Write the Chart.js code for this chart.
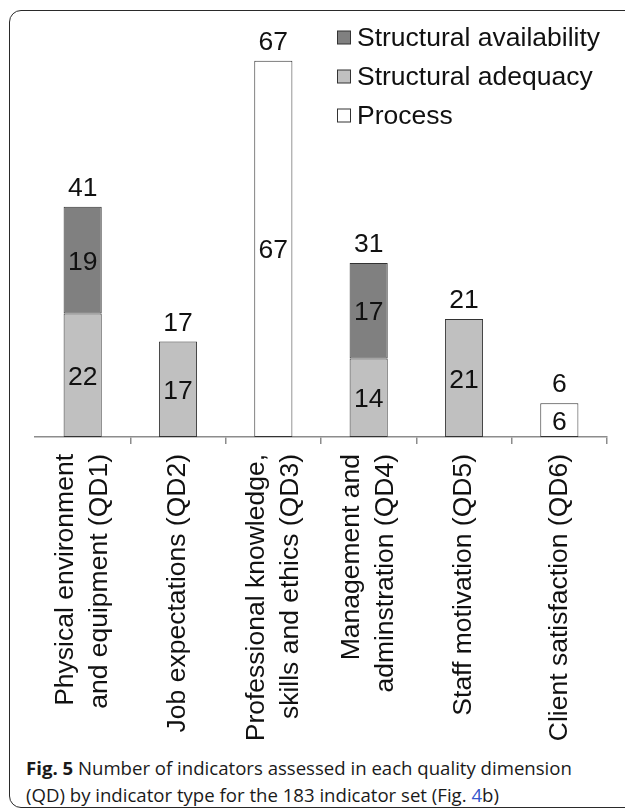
<!DOCTYPE html>
<html>
<head>
<meta charset="utf-8">
<script src="https://cdn.jsdelivr.net/npm/chart.js@4.4.0/dist/chart.umd.min.js"></script>
<style>
  html, body { margin: 0; padding: 0; background: #fff; width: 625px; height: 812px; overflow: hidden; }
  .frame { position: absolute; left: 9px; top: 10px; width: 700px; height: 796px;
           border: 1.5px solid #2a2a2a; border-radius: 12px; }
  #chartBox { position: absolute; left: 0; top: 0; width: 625px; height: 750px; }
  .caption { position: absolute; left: 26px; top: 754px; font-family: "Open Sans", sans-serif;
             font-size: 18.6px; line-height: 27px; color: #1a1a1a; white-space: nowrap; }
  .caption b { font-weight: 700; }
  .caption .ref { color: #3355cc; }
</style>
</head>
<body>
<div class="frame"></div>
<div id="chartBox"><canvas id="chart"></canvas></div>
<div class="caption"><b>Fig. 5</b> Number of indicators assessed in each quality dimension<br>(QD) by indicator type for the 183 indicator set (Fig. <span class="ref">4</span>b)</div>

<script>
/* Fig. 5 — indicators per quality dimension, stacked by indicator type */

const categories = [
  ['Physical environment', 'and equipment (QD1)'],
  ['Job expectations (QD2)'],
  ['Professional knowledge,', 'skills and ethics (QD3)'],
  ['Management and', 'adminstration (QD4)'],
  ['Staff motivation (QD5)'],
  ['Client satisfaction (QD6)']
];

// stacked bottom -> top: adequacy, availability, process
const adequacy     = [22, 17, null, 14, 21, null];
const availability = [19, null, null, 17, null, null];
const processCount = [null, null, 67, null, null, 6];

const legendNames  = ['Structural availability', 'Structural adequacy', 'Process'];
const legendColors = ['#808080', '#c0c0c0', '#ffffff'];

const FONT = '"Liberation Sans", Arial, sans-serif';
const FONT_SIZE = 26.5;

// value labels inside each segment + totals over each stack
const stackLabels = {
  id: 'stackLabels',
  afterDatasetsDraw(chart) {
    const ctx = chart.ctx;
    ctx.save();
    ctx.font = FONT_SIZE + 'px ' + FONT;
    ctx.fillStyle = '#111';
    ctx.textAlign = 'center';
    ctx.textBaseline = 'alphabetic';
    chart.data.datasets.forEach((ds, di) => {
      chart.getDatasetMeta(di).data.forEach((bar, i) => {
        const v = ds.data[i];
        if (v == null) return;
        ctx.fillText(String(v), bar.x, (bar.y + bar.base) / 2 + 9.5);
      });
    });
    categories.forEach((c, i) => {
      let total = 0, top = Infinity, x = 0;
      chart.data.datasets.forEach((ds, di) => {
        const v = ds.data[i];
        if (v == null) return;
        const bar = chart.getDatasetMeta(di).data[i];
        total += v;
        top = Math.min(top, bar.y);
        x = bar.x;
      });
      if (total) ctx.fillText(String(total), x, top - 11);
    });
    ctx.restore();
  }
};

// rotated category labels, lines centred on the tick, reading bottom-to-top
const rotatedLabels = {
  id: 'rotatedLabels',
  afterDraw(chart) {
    const ctx = chart.ctx;
    const xs = chart.scales.x;
    const lh = 34;
    ctx.save();
    ctx.font = FONT_SIZE + 'px ' + FONT;
    ctx.fillStyle = '#111';
    ctx.textAlign = 'right';
    ctx.textBaseline = 'middle';
    categories.forEach((lines, i) => {
      const px = xs.getPixelForValue(i);
      lines.forEach((line, j) => {
        const x = px + (j - (lines.length - 1) / 2) * lh;
        ctx.save();
        ctx.translate(x, xs.top + 17);
        ctx.rotate(-Math.PI / 2);
        ctx.fillText(line, 0, 0);
        ctx.restore();
      });
    });
    ctx.restore();
  }
};

// legend in the upper right, inside the plot
const boxLegend = {
  id: 'boxLegend',
  afterDraw(chart) {
    const ctx = chart.ctx;
    ctx.save();
    ctx.font = FONT_SIZE + 'px ' + FONT;
    ctx.textBaseline = 'middle';
    ctx.textAlign = 'left';
    legendNames.forEach((name, i) => {
      const y = 38 + i * 39;
      ctx.fillStyle = legendColors[i];
      ctx.fillRect(337.5, y - 7, 13, 13);
      ctx.strokeStyle = '#333';
      ctx.lineWidth = 1;
      ctx.strokeRect(337.5, y - 7, 13, 13);
      ctx.fillStyle = '#111';
      ctx.fillText(name, 357, y + 1);
    });
    ctx.restore();
  }
};

const barStyle = { borderColor: '#333', borderWidth: 1, borderSkipped: false,
                   barPercentage: 0.4, categoryPercentage: 1 };

new Chart(document.getElementById('chart'), {
  type: 'bar',
  data: {
    labels: categories.map(l => l.join(' ')),
    datasets: [
      { label: 'Structural adequacy', data: adequacy, backgroundColor: '#c0c0c0', ...barStyle },
      { label: 'Structural availability', data: availability, backgroundColor: '#808080', ...barStyle },
      { label: 'Process', data: processCount, backgroundColor: '#ffffff', ...barStyle }
    ]
  },
  options: {
    responsive: true,
    maintainAspectRatio: false,
    animation: false,
    layout: { padding: { top: 44, left: 35, right: 18, bottom: 306 } },
    plugins: { legend: { display: false }, tooltip: { enabled: false } },
    scales: {
      x: {
        stacked: true,
        grid: {
          display: true, drawOnChartArea: false, tickLength: 7, lineWidth: 1.5,
          color: c => (c.index === 0 ? 'rgba(0,0,0,0)' : '#8c8c8c')
        },
        border: { display: true, color: '#8c8c8c', width: 1.5 },
        ticks: { display: false }
      },
      y: { stacked: true, display: false, min: 0, max: 70 }
    }
  },
  plugins: [stackLabels, rotatedLabels, boxLegend]
});
</script>
</body>
</html>
